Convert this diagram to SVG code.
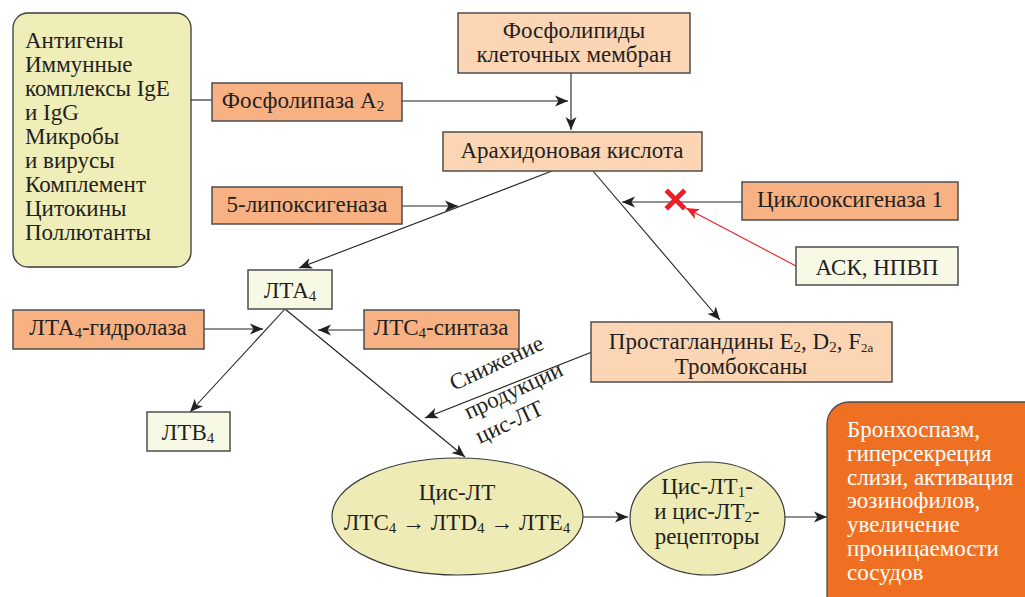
<svg xmlns="http://www.w3.org/2000/svg" width="1025" height="597" viewBox="0 0 1025 597">
<defs>
<style>
text{font-family:"Liberation Serif","DejaVu Serif",serif;font-size:23px;fill:#231f20}
.c{text-anchor:middle}
.w{fill:#ffffff}
.box{stroke:#4d4d4d;stroke-width:1.5}
.enz{fill:#f7b183}
.sub{fill:#fcd5b5}
.lt{fill:#f7f9e4}
.ell{fill:#eeebb6;stroke:#3a3a3a;stroke-width:1.2}
.ln{stroke:#231f20;stroke-width:1.1;fill:none}
.gr{stroke:#6d6d6d;stroke-width:1.6;fill:none}
.red{stroke:#ee1c25;stroke-width:1.1;fill:none}
.s{font-size:15px}
</style>
<marker id="ah" markerUnits="userSpaceOnUse" markerWidth="14" markerHeight="12" refX="13" refY="6" orient="auto">
<path d="M0,0.5 L13,6 L0,11.5 L3.5,6 z" fill="#231f20"/>
</marker>
<marker id="ahr" markerUnits="userSpaceOnUse" markerWidth="14" markerHeight="12" refX="13" refY="6" orient="auto">
<path d="M0,0.5 L13,6 L0,11.5 L3.5,6 z" fill="#ee1c25"/>
</marker>
</defs>
<rect width="1025" height="597" fill="#ffffff"/>

<g id="connectors">
<line class="ln" x1="191" y1="100" x2="212" y2="100"/>
<line class="ln" x1="402" y1="101" x2="568" y2="101" marker-end="url(#ah)"/>
<line class="ln" x1="571" y1="73" x2="571" y2="130" marker-end="url(#ah)"/>
<line class="ln" x1="552" y1="171" x2="299" y2="268" marker-end="url(#ah)"/>
<line class="gr" x1="402" y1="206" x2="458" y2="206" marker-end="url(#ah)"/>
<line class="ln" x1="593" y1="171" x2="720" y2="320" marker-end="url(#ah)"/>
<line class="gr" x1="742" y1="202" x2="622" y2="202" marker-end="url(#ah)"/>
<line class="red" x1="796" y1="266" x2="686" y2="208" marker-end="url(#ahr)"/>
<line class="ln" x1="204" y1="329" x2="263" y2="329" marker-end="url(#ah)"/>
<line class="gr" x1="364" y1="330" x2="318" y2="330" marker-end="url(#ah)"/>
<line class="ln" x1="285" y1="309" x2="190" y2="412" marker-end="url(#ah)"/>
<line class="ln" x1="285" y1="309" x2="465" y2="457" marker-end="url(#ah)"/>
<line class="ln" x1="592" y1="352" x2="425" y2="418" marker-end="url(#ah)"/>
<line class="ln" x1="583" y1="517" x2="628" y2="517" marker-end="url(#ah)"/>
<line class="gr" x1="785" y1="517" x2="827" y2="517" marker-end="url(#ah)"/>
<g id="block-x" stroke="#ee1c25" stroke-width="5" stroke-linecap="square">
<line x1="668" y1="192" x2="683" y2="207"/>
<line x1="683" y1="192" x2="668" y2="207"/>
</g>
<text transform="translate(454,391) rotate(-25)" font-size="22">
<tspan x="0" y="0">Снижение</tspan>
<tspan x="1" y="32">продукции</tspan>
<tspan x="1" y="59">цис-ЛТ</tspan>
</text>
</g>

<g id="triggers">
<rect x="13" y="13" width="178" height="254" rx="15" fill="#efedb8" stroke="#3a3a3a" stroke-width="1.3"/>
<text x="25" y="48">Антигены</text>
<text x="25" y="72">Иммунные</text>
<text x="25" y="96">комплексы IgE</text>
<text x="25" y="120">и IgG</text>
<text x="25" y="144">Микробы</text>
<text x="25" y="168">и вирусы</text>
<text x="25" y="192">Комплемент</text>
<text x="25" y="216">Цитокины</text>
<text x="25" y="240">Поллютанты</text>
</g>

<g id="phospholipase">
<rect class="box enz" x="212" y="83" width="190" height="38"/>
<text class="c" x="303" y="108">Фосфолипаза A<tspan class="s" dy="3">2</tspan></text>
</g>

<g id="phospholipids">
<rect class="box sub" x="458" y="13" width="232" height="60"/>
<text class="c" x="574" y="38">Фосфолипиды</text>
<text class="c" x="574" y="62">клеточных мембран</text>
</g>

<g id="arachidonic">
<rect class="box sub" x="443" y="132" width="259" height="39"/>
<text class="c" x="572" y="158">Арахидоновая кислота</text>
</g>

<g id="lipoxygenase">
<rect class="box enz" x="212" y="187" width="190" height="37"/>
<text class="c" x="307" y="212">5-липоксигеназа</text>
</g>

<g id="cox1">
<rect class="box enz" x="742" y="182" width="216" height="38"/>
<text class="c" x="850" y="207">Циклооксигеназа 1</text>
</g>

<g id="nsaid">
<rect class="box lt" x="796" y="247" width="162" height="38"/>
<text class="c" x="877" y="275">АСК, НПВП</text>
</g>

<g id="lta4">
<rect class="box lt" x="248" y="270" width="84" height="39"/>
<text class="c" x="290" y="298">ЛТА<tspan class="s" dy="3">4</tspan></text>
</g>

<g id="lta4-hydrolase">
<rect class="box enz" x="13" y="310" width="191" height="39"/>
<text class="c" x="108" y="335">ЛТА<tspan class="s" dy="3">4</tspan><tspan dy="-3">-гидролаза</tspan></text>
</g>

<g id="ltc4-synthase">
<rect class="box enz" x="364" y="310" width="155" height="39"/>
<text class="c" x="441" y="335">ЛТС<tspan class="s" dy="3">4</tspan><tspan dy="-3">-синтаза</tspan></text>
</g>

<g id="prostaglandins">
<rect class="box sub" x="591" y="322" width="301" height="60"/>
<text class="c" x="741" y="349">Простагландины E<tspan class="s" dy="3">2</tspan><tspan dy="-3">, D</tspan><tspan class="s" dy="3">2</tspan><tspan dy="-3">, F</tspan><tspan font-size="13" dy="3">2a</tspan></text>
<text class="c" x="741" y="374">Тромбоксаны</text>
</g>

<g id="ltb4">
<rect class="box lt" x="147" y="412" width="83" height="39"/>
<text class="c" x="188" y="440">ЛТВ<tspan class="s" dy="3">4</tspan></text>
</g>

<g id="cis-lt">
<ellipse class="ell" cx="457.5" cy="516.5" rx="125.5" ry="58.5"/>
<text class="c" x="457" y="500">Цис-ЛТ</text>
<text class="c" x="457" y="530">ЛТС<tspan class="s" dy="3">4</tspan><tspan dy="-3"> → ЛТD</tspan><tspan class="s" dy="3">4</tspan><tspan dy="-3"> → ЛТЕ</tspan><tspan class="s" dy="3">4</tspan></text>
</g>

<g id="receptors">
<ellipse class="ell" cx="707.5" cy="518.5" rx="77.5" ry="56.5"/>
<text class="c" x="707" y="494">Цис-ЛТ<tspan class="s" dy="3">1</tspan><tspan dy="-3">-</tspan></text>
<text class="c" x="707" y="519">и цис-ЛТ<tspan class="s" dy="3">2</tspan><tspan dy="-3">-</tspan></text>
<text class="c" x="707" y="544">рецепторы</text>
</g>

<g id="effects">
<rect x="827" y="402" width="230" height="230" rx="22" fill="#f07023" stroke="#4d4d4d" stroke-width="1.3"/>
<text class="w" x="847" y="437">Бронхоспазм,</text>
<text class="w" x="847" y="461">гиперсекреция</text>
<text class="w" x="847" y="485">слизи, активация</text>
<text class="w" x="847" y="508">эозинофилов,</text>
<text class="w" x="847" y="532">увеличение</text>
<text class="w" x="847" y="556">проницаемости</text>
<text class="w" x="847" y="580">сосудов</text>
</g>
</svg>
